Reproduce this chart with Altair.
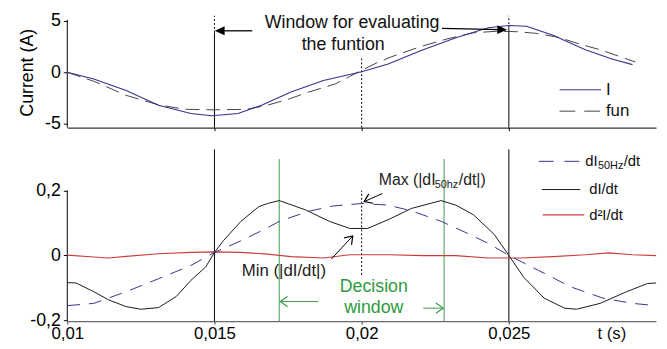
import altair as alt
import pandas as pd

FONT = "Liberation Sans"

# ---------------- top panel: current ----------------
t_I = [0.0100, 0.0109, 0.0120, 0.0131, 0.0142, 0.0149, 0.0158, 0.0166, 0.0176, 0.0187,
       0.0200, 0.0209, 0.0220, 0.0232, 0.0243, 0.0250, 0.0256, 0.0265, 0.0276, 0.0285, 0.0292]
I_vals = [0.0, -0.64, -1.76, -3.2, -4.0, -4.23, -4.0, -3.2, -1.92, -0.8,
          0.05, 0.8, 2.09, 3.37, 4.33, 4.55, 4.49, 3.6, 2.2, 1.3, 0.75]

t_fun = [0.0100, 0.0109, 0.0120, 0.0131, 0.0140, 0.0150, 0.0161, 0.0168, 0.0175, 0.0182,
         0.0191, 0.0196, 0.0200, 0.0205, 0.0210, 0.0220, 0.0229, 0.0238, 0.0246, 0.0253,
         0.0259, 0.0267, 0.0274, 0.0281, 0.0287, 0.0293]
fun_vals = [0.0, -0.87, -2.24, -3.17, -3.6, -3.65, -3.6, -3.2, -2.63, -1.92,
            -1.13, -0.4, 0.2, 0.9, 1.5, 2.5, 3.25, 3.85, 4.0, 3.95,
            3.8, 3.4, 2.75, 2.2, 1.6, 1.0]

# ---------------- bottom panel: derivatives ----------------
t_dI = [0.0100, 0.0103, 0.0109, 0.0114, 0.0120, 0.0125, 0.0131, 0.0137, 0.0142, 0.0147,
        0.0150, 0.0153, 0.0159, 0.0165, 0.0168, 0.0172, 0.0181, 0.0189, 0.0196, 0.0202,
        0.0209, 0.0217, 0.0227, 0.0232, 0.0238, 0.0245, 0.0250, 0.0255, 0.0262, 0.0269,
        0.0273, 0.0281, 0.0290, 0.0297, 0.0300]
dI_vals = [-0.084, -0.085, -0.112, -0.137, -0.158, -0.166, -0.161, -0.127, -0.077, -0.036,
           0.009, 0.045, 0.105, 0.15, 0.16, 0.169, 0.14, 0.105, 0.083, 0.083,
           0.11, 0.145, 0.169, 0.155, 0.125, 0.065, 0.0, -0.067, -0.132, -0.163,
           -0.166, -0.148, -0.112, -0.087, -0.085]

t_d50 = [0.0100, 0.0109, 0.0120, 0.0131, 0.0142, 0.0150, 0.0159, 0.0168, 0.0172, 0.0182,
         0.0190, 0.0200, 0.0209, 0.0217, 0.0227, 0.0235, 0.0243, 0.0250, 0.0260, 0.0271,
         0.0282, 0.0292, 0.0300]
d50_vals = [-0.155, -0.148, -0.112, -0.072, -0.031, 0.009, 0.045, 0.085, 0.105, 0.136,
            0.152, 0.16, 0.155, 0.137, 0.105, 0.072, 0.037, 0.0, -0.046, -0.097,
            -0.132, -0.148, -0.155]

t_d2 = [0.0100, 0.0109, 0.0114, 0.0120, 0.0131, 0.0142, 0.0150, 0.0159, 0.0168, 0.0176,
        0.0187, 0.0196, 0.0209, 0.0221, 0.0232, 0.0243, 0.0254, 0.0265, 0.0276, 0.0284,
        0.0292, 0.0300]
d2_vals = [0.001, -0.005, -0.008, -0.003, 0.005, 0.009, 0.011, 0.009, 0.004, -0.004,
           -0.008, 0.002, 0.002, -0.001, -0.001, -0.008, -0.008, -0.004, 0.002, 0.008,
           0.002, -0.001]

x_ticks_top = [0.015, 0.02, 0.025]
x_ticks_bottom = [0.01, 0.015, 0.02, 0.025]
y_ticks_top = [-5, 0, 5]
y_ticks_bottom = [-0.2, 0, 0.2]

X_DOM = [0.01, 0.03]
YT_DOM = [-5.38, 5.58]
YB_DOM = [-0.203, 0.327]

LABEL_EXPR = ("datum.value == 0 ? '0' : (datum.value < 0 ? '-' : '') + "
              "replace(format(abs(datum.value), '~g'), '.', ',')")

NAVY = "#34348c"
GREEN = "#3c9c4a"
RED = "#c83c3c"

# ---------- axes / encodings ----------
x_top = alt.X("t:Q", scale=alt.Scale(domain=X_DOM, nice=False, zero=False), title=None,
              axis=alt.Axis(values=x_ticks_top, labels=False, tickSize=3, grid=False,
                            domainColor="#000", tickColor="#000"))
y_top = alt.Y("v:Q", scale=alt.Scale(domain=YT_DOM, nice=False, zero=False),
              title="Current (A)",
              axis=alt.Axis(values=y_ticks_top, labelExpr=LABEL_EXPR, domain=False,
                            tickSize=4, tickColor="#000", grid=False, labelPadding=3,
                            labelFont=FONT, labelFontSize=18, labelColor="#000",
                            titleFont=FONT, titleFontSize=18, titleFontWeight="normal",
                            titleColor="#000", titleX=-40, titleY=58, titleAngle=270,
                            titleAlign="center", titleBaseline="middle"))
x_bot = alt.X("t:Q", scale=alt.Scale(domain=X_DOM, nice=False, zero=False), title=None,
              axis=alt.Axis(values=x_ticks_bottom, labelExpr=LABEL_EXPR, tickSize=3,
                            grid=False, domainColor="#444", tickColor="#444",
                            labelFont=FONT, labelFontSize=17, labelColor="#000",
                            labelPadding=2, labelFlush=False))
y_bot = alt.Y("v:Q", scale=alt.Scale(domain=YB_DOM, nice=False, zero=False), title=None,
              axis=alt.Axis(values=y_ticks_bottom, labelExpr=LABEL_EXPR, domain=False,
                            tickSize=4, tickColor="#000", grid=False, labelPadding=3,
                            labelFont=FONT, labelFontSize=18, labelColor="#000"))


def vrules(rows, X, Y, **mk):
    df = pd.DataFrame(rows, columns=["t", "v", "v2"])
    return alt.Chart(df).mark_rule(**mk).encode(x=X, y=Y, y2="v2:Q")


def segs(rows, X, Y, **mk):
    df = pd.DataFrame(rows, columns=["t", "v", "t2", "v2"])
    return alt.Chart(df).mark_rule(**mk).encode(x=X, y=Y, x2="t2:Q", y2="v2:Q")


def heads(rows, X, Y, shape, size, filled, color):
    df = pd.DataFrame(rows, columns=["t", "v", "ang"])
    kw = dict(shape=shape, size=size, filled=filled, opacity=1)
    if filled:
        kw.update(fill=color, strokeWidth=0)
    else:
        kw.update(stroke=color, strokeWidth=1.2)
    return alt.Chart(df).mark_point(**kw).encode(
        x=X, y=Y, angle=alt.Angle("ang:Q", scale=None))


def texts(rows, X, Y, **mk):
    df = pd.DataFrame(rows, columns=["t", "v", "txt"])
    return alt.Chart(df).mark_text(font=FONT, **mk).encode(x=X, y=Y, text="txt:N")


def series(ts, vs, X, Y, **mk):
    df = pd.DataFrame({"t": ts, "v": vs})
    return alt.Chart(df).mark_line(**mk).encode(x=X, y=Y)


OPEN = "M -1 -0.7 L 0 0 L -1 0.7"
FILLED = "M 0 0 L -1 -0.45 L -1 0.45 Z"

# ---------------- top chart ----------------
top_layers = [
    vrules([(0.015, -5.38, 3.85), (0.025, -5.38, 4.3)], x_top, y_top, color="#000", strokeWidth=1),
    vrules([(0.015, 3.85, 5.5), (0.025, 4.3, 5.5), (0.02, -5.38, 1.45)], x_top, y_top,
           color="#000", strokeWidth=1, strokeDash=[2, 2]),
    vrules([(0.01, -5.38, 5.1)], x_top, y_top, color="#000", strokeWidth=1),
    series(t_fun, fun_vals, x_top, y_top, color="#444", strokeWidth=1, strokeDash=[14, 7]),
    series(t_I, I_vals, x_top, y_top, color=NAVY, strokeWidth=1.1),
    segs([(0.016285, 4.04, 0.01530, 4.04), (0.022728, 4.28, 0.02470, 4.15)], x_top, y_top,
         color="#000", strokeWidth=1.3),
    heads([(0.01501, 4.04, 180), (0.024943, 4.135, 1.3)], x_top, y_top, FILLED, 400, True, "#000"),
    texts([(0.019674, 4.78, "Window for evaluating"), (0.019372, 2.70, "the funtion")],
          x_top, y_top, fontSize=18, color="#111", align="center", baseline="middle"),
    # legend
    segs([(0.026722, -1.70, 0.028131, -1.70)], x_top, y_top, color=NAVY, strokeWidth=1),
    segs([(0.026722, -3.78, 0.028131, -3.78)], x_top, y_top, color="#444", strokeWidth=1,
         strokeDash=[16, 9]),
    texts([(0.028299, -1.70, "I"), (0.028299, -3.78, "fun")], x_top, y_top,
          fontSize=17, color="#111", align="left", baseline="middle"),
]
top = alt.layer(*top_layers).properties(width=596, height=114)

# ---------------- bottom chart ----------------
bot_layers = [
    vrules([(0.015, -0.203, 0.327), (0.025, -0.203, 0.327)], x_bot, y_bot, color="#000", strokeWidth=1),
    vrules([(0.0172, -0.203, 0.297), (0.0228, -0.203, 0.297)], x_bot, y_bot, color=GREEN, strokeWidth=1),
    vrules([(0.02, -0.06, 0.2)], x_bot, y_bot, color="#000", strokeWidth=1, strokeDash=[2, 2]),
    vrules([(0.01, -0.203, 0.2)], x_bot, y_bot, color="#000", strokeWidth=1),
    series(t_d2, d2_vals, x_bot, y_bot, color=RED, strokeWidth=1.2),
    series(t_d50, d50_vals, x_bot, y_bot, color=NAVY, strokeWidth=1, strokeDash=[13, 9]),
    series(t_dI, dI_vals, x_bot, y_bot, color="#1a1a1a", strokeWidth=1),
    # annotation arrows
    segs([(0.020705, 0.1909, 0.020087, 0.1658), (0.01897, -0.0112, 0.019698, 0.0597)],
         x_bot, y_bot, color="#000", strokeWidth=1),
    heads([(0.020087, 0.1658, 155.7), (0.019698, 0.0597, 312.8)], x_bot, y_bot, OPEN, 220, False, "#000"),
    segs([(0.018523, -0.1424, 0.017235, -0.1424), (0.022091, -0.1627, 0.022772, -0.1627)],
         x_bot, y_bot, color=GREEN, strokeWidth=1),
    heads([(0.017235, -0.1424, 180), (0.022772, -0.1627, 0)], x_bot, y_bot, OPEN, 220, False, GREEN),
    texts([(0.020413, -0.097, "Decision"), (0.020413, -0.163, "window")], x_bot, y_bot,
          fontSize=18, color="#2d9a3d", align="center", baseline="middle"),
    texts([(0.017359, -0.0494, "Min (|dI/dt|)")], x_bot, y_bot, fontSize=17, color="#222",
          align="center", baseline="middle"),
    texts([(0.020581, 0.2333, "Max (|dI"), (0.023300, 0.2333, "/dt|)")], x_bot, y_bot,
          fontSize=16, color="#222", align="left", baseline="middle"),
    texts([(0.022480, 0.218, "50hz")], x_bot, y_bot, fontSize=11, color="#222",
          align="left", baseline="middle"),
    texts([(0.0285, -0.244, "t (s)")], x_bot, y_bot, fontSize=17, color="#111",
          align="center", baseline="middle"),
    # legend
    segs([(0.026017, 0.29, 0.027426, 0.29)], x_bot, y_bot, color=NAVY, strokeWidth=1,
         strokeDash=[15, 11]),
    segs([(0.026118, 0.203, 0.027426, 0.203)], x_bot, y_bot, color="#1a1a1a", strokeWidth=1),
    segs([(0.026151, 0.125, 0.02756, 0.125)], x_bot, y_bot, color=RED, strokeWidth=1.2),
    texts([(0.027594, 0.29, "dI"), (0.028903, 0.29, "/dt"), (0.027728, 0.203, "dI/dt"),
           (0.027728, 0.125, "d²I/dt")], x_bot, y_bot, fontSize=15, color="#111",
          align="left", baseline="middle"),
    texts([(0.028030, 0.2748, "50Hz")], x_bot, y_bot, fontSize=11, color="#111",
          align="left", baseline="middle"),
]
bottom = alt.layer(*bot_layers).properties(width=596, height=174)

chart = alt.vconcat(top, bottom, spacing=15).properties(
    padding={"left": 11, "top": 2, "right": 0, "bottom": 0},
    background="white",
).configure_view(strokeWidth=0)

chart.save("out.html", embed_options={"renderer": "svg", "actions": False})
